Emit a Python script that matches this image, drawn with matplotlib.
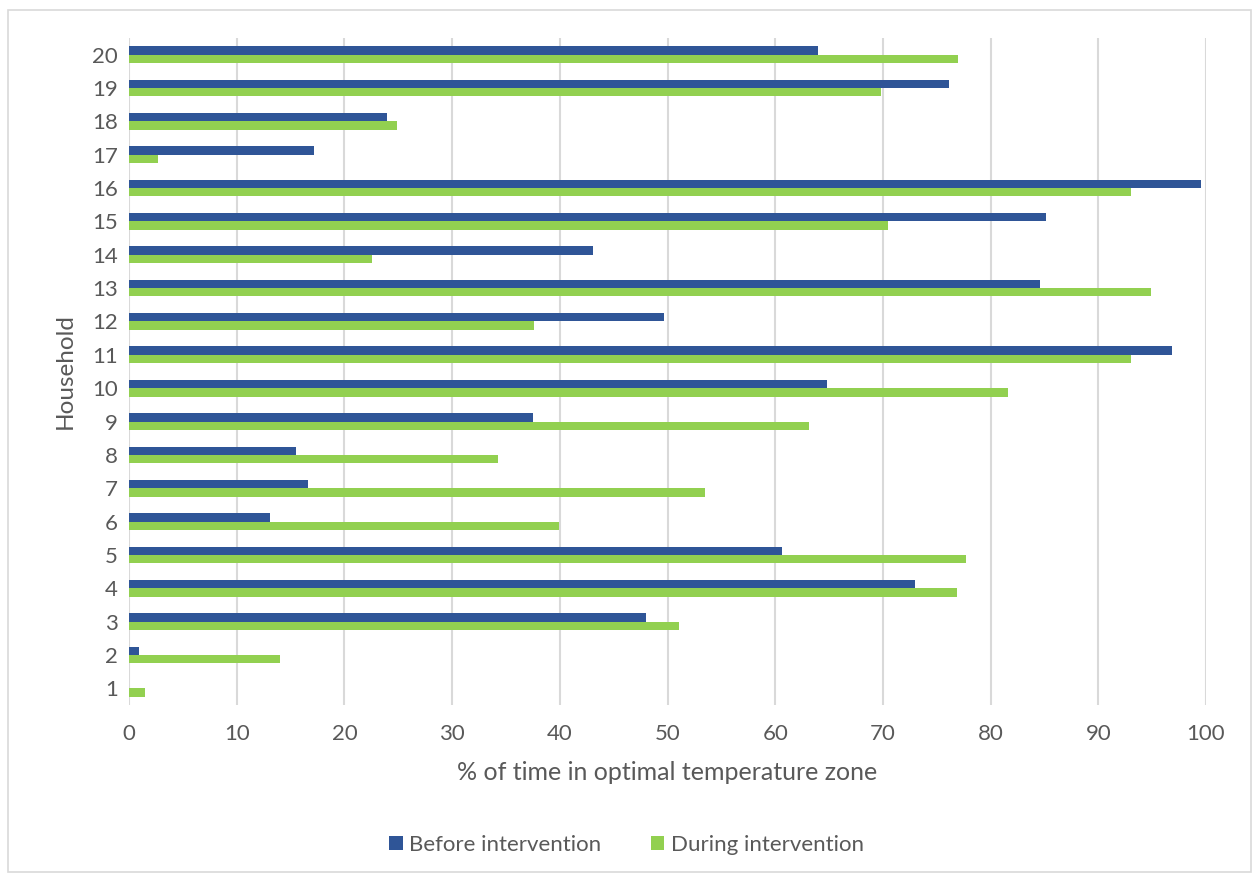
import matplotlib
matplotlib.use("Agg")
import matplotlib.pyplot as plt
from matplotlib.patches import Rectangle

households = list(range(1, 21))
before = [0, 0.9, 48.0, 73.0, 60.6, 13.1, 16.6, 15.5, 37.5, 64.8,
          96.8, 49.7, 84.6, 43.1, 85.1, 99.5, 17.2, 24.0, 76.1, 64.0]
during = [1.5, 14.0, 51.1, 76.9, 77.7, 39.9, 53.5, 34.3, 63.1, 81.6,
          93.0, 37.6, 94.9, 22.6, 70.5, 93.0, 2.7, 24.9, 69.8, 77.0]
series_names = ["Before intervention", "During intervention"]
x_ticks = list(range(0, 101, 10))

BLUE = "#2F5597"
GREEN = "#92D050"
TXT = "#595959"

plt.rcParams['font.family'] = ['Lato', 'DejaVu Sans']

fig = plt.figure(figsize=(12.53, 8.76), dpi=100)
ax = fig.add_axes([129/1253, 1-705/876, (1206-129)/1253, (705-38)/876])

h = 0.25
y = households
ax.barh([v + h/2 for v in y], before, height=h, color=BLUE, label=series_names[0], zorder=3)
ax.barh([v - h/2 for v in y], during, height=h, color=GREEN, label=series_names[1], zorder=3)

ax.set_xlim(0, 100)
ax.set_ylim(0.5, 20.5)
ax.set_xticks(x_ticks)
ax.set_yticks(households)
ax.set_yticklabels([str(v) for v in households])
ax.grid(axis='x', color='#D9D9D9', linewidth=1.5, zorder=0)
for s in ax.spines.values():
    s.set_visible(False)
ax.tick_params(axis='both', length=0, labelsize=16, labelcolor=TXT)
ax.tick_params(axis='x', pad=14)
ax.tick_params(axis='y', pad=8)
ax.set_xlabel("% of time in optimal temperature zone", fontsize=18, color=TXT, labelpad=12)
ax.set_ylabel("Household", fontsize=17.5, color=TXT, labelpad=12)

leg = fig.legend(loc='center', bbox_to_anchor=(0.5, 1-845/876), ncol=2, frameon=False,
                 fontsize=16, handlelength=0.6, handleheight=0.6, columnspacing=2.2,
                 handletextpad=0.3)
for t in leg.get_texts():
    t.set_color(TXT)

fig.patches.append(Rectangle((8/1253, 0.004), 1-10/1253, 1-10/876-0.004,
                             transform=fig.transFigure, fill=False,
                             edgecolor='#D9D9D9', linewidth=1.2))

fig.savefig("out.png", dpi=100, facecolor='white')
